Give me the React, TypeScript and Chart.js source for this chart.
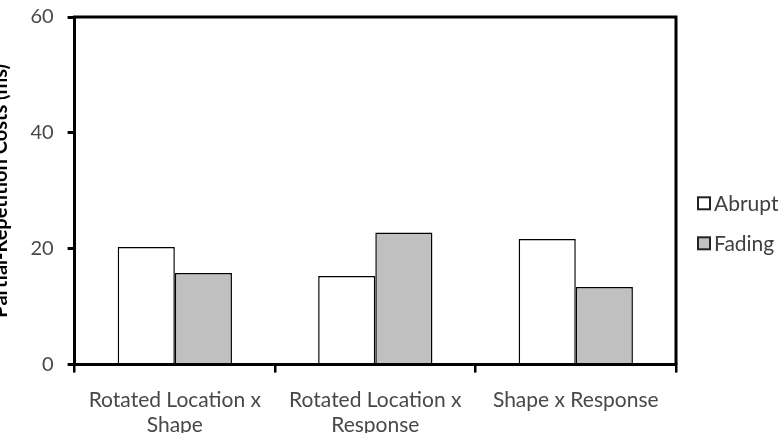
import { useEffect, useRef } from "react";
import { Chart, registerables } from "chart.js";

Chart.register(...registerables);

const categories = [
  ["Rotated Location x", "Shape"],
  ["Rotated Location x", "Response"],
  ["Shape x Response"],
];
const seriesNames = ["Abrupt", "Fading"];
const abruptValues = [20.3, 15.3, 21.7];
const fadingValues = [15.8, 22.8, 13.4];
const yMin = 0;
const yMax = 60;
const yStep = 20;
const yTitle = "Partial-Repetition Costs (ms)";

const FONT = "Lato, 'Liberation Sans', sans-serif";

// legend drawn next to the plot area
const legendPlugin = {
  id: "sideLegend",
  afterDraw(chart: any) {
    const { ctx, chartArea } = chart;
    ctx.save();
    ctx.font = `21px ${FONT}`;
    ctx.textBaseline = "middle";
    ctx.textAlign = "left";
    const midY = (chartArea.top + chartArea.bottom) / 2;
    const n = chart.data.datasets.length;
    chart.data.datasets.forEach((ds: any, i: number) => {
      const x = chartArea.right + 22;
      const yc = midY + 32.5 + (i - (n - 1) / 2) * 40;
      ctx.fillStyle = ds.backgroundColor;
      ctx.fillRect(x, yc - 6, 12, 12);
      ctx.strokeStyle = "#222";
      ctx.lineWidth = 2;
      ctx.strokeRect(x, yc - 6, 12, 12);
      ctx.fillStyle = "#404040";
      ctx.fillText(ds.label, x + 16, yc + 1);
    });
    ctx.restore();
  },
};

const framePlugin = {
  id: "frame",
  afterDraw(chart: any) {
    const { ctx, chartArea } = chart;
    ctx.save();
    ctx.strokeStyle = "#000";
    ctx.lineWidth = 3;
    ctx.beginPath();
    ctx.moveTo(chartArea.left - 1.5, chartArea.top);
    ctx.lineTo(chartArea.right, chartArea.top);
    ctx.lineTo(chartArea.right, chartArea.bottom);
    ctx.stroke();
    ctx.restore();
  },
};

export default function App() {
  const ref = useRef<HTMLCanvasElement>(null);
  useEffect(() => {
    if (!ref.current) return;
    const chart = new Chart(ref.current, {
      type: "bar",
      data: {
        labels: categories,
        datasets: [
          {
            label: seriesNames[0],
            data: abruptValues,
            backgroundColor: "#ffffff",
            borderColor: "#000000",
            borderWidth: 1.5,
            categoryPercentage: 0.57,
            barPercentage: 1,
          },
          {
            label: seriesNames[1],
            data: fadingValues,
            backgroundColor: "#c0c0c0",
            borderColor: "#000000",
            borderWidth: 1.5,
            categoryPercentage: 0.57,
            barPercentage: 1,
          },
        ],
      },
      options: {
        animation: false,
        responsive: true,
        maintainAspectRatio: false,
        layout: { padding: { top: 6, right: 103, left: 0, bottom: 0 } },
        plugins: {
          tooltip: { enabled: false },
          legend: { display: false },
        },
        scales: {
          x: {
            grid: {
              offset: true,
              drawOnChartArea: false,
              drawTicks: true,
              tickLength: 8,
              color: "#000",
              lineWidth: 2.5,
            },
            border: { display: true, color: "#000", width: 3 },
            ticks: { color: "#484848", font: { size: 21, family: FONT }, padding: 15, maxRotation: 0 },
          },
          y: {
            min: yMin,
            max: yMax,
            grid: {
              drawOnChartArea: false,
              drawTicks: true,
              tickLength: 7,
              color: "#000",
              lineWidth: 3,
            },
            border: { display: true, color: "#000", width: 3 },
            ticks: { stepSize: yStep, color: "#484848", font: { size: 20, family: FONT }, padding: 14 },
            title: {
              display: true,
              text: yTitle,
              color: "#000",
              font: { size: 20, weight: "bold", family: FONT },
              padding: { top: 2, bottom: 3.4 },
            },
          },
        },
      },
      plugins: [framePlugin, legendPlugin],
    });
    return () => chart.destroy();
  }, []);
  return (
    <div style={{ position: "fixed", left: -13, top: -9, width: 792, height: 462, background: "#fff" }}>
      <canvas ref={ref} />
    </div>
  );
}
